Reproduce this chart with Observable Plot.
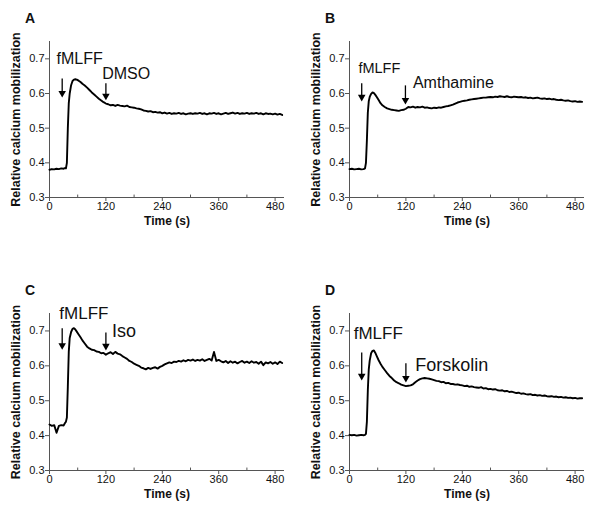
<!DOCTYPE html>
<html>
<head>
<meta charset="utf-8">
<script src="https://cdn.jsdelivr.net/npm/d3@7"></script>
<script src="https://cdn.jsdelivr.net/npm/@observablehq/plot@0.6"></script>
<style>
  html, body { margin: 0; padding: 0; background: #fff; }
  #wrap { position: relative; width: 600px; height: 516px; font-family: "Liberation Sans", Arial, sans-serif; }
  .panel { position: absolute; }
  .letter { position: absolute; font-weight: bold; font-size: 14px; line-height: 14px; color: #111; }
</style>
</head>
<body>
<div id="wrap"></div>
<script>
// ---------- data ----------
const panelLetters = ["A", "B", "C", "D"];
const yLabel = "Relative calcium mobilization";
const xLabel = "Time (s)";
const xTicks = [0, 120, 240, 360, 480];
const xMinorTicks = [60, 180, 300, 420];
const yTicks = [0.3, 0.4, 0.5, 0.6, 0.7];

const timeGrid = [
  0, 5, 10, 15, 20, 25, 30, 33, 35, 37,
  39, 41, 43, 46, 49, 52, 55, 58, 62, 66,
  70, 75, 80, 85, 90, 95, 100, 105, 110, 115,
  120, 125, 130, 135, 140, 145, 150, 155, 160, 165,
  170, 175, 180, 185, 190, 195, 200, 205, 210, 215,
  220, 225, 230, 235, 240, 245, 250, 255, 260, 265,
  270, 275, 280, 285, 290, 295, 300, 305, 310, 315,
  320, 325, 330, 335, 340, 345, 350, 355, 360, 365,
  370, 375, 380, 385, 390, 395, 400, 405, 410, 415,
  420, 425, 430, 435, 440, 445, 450, 455, 460, 465,
  470, 475, 480, 485, 490, 495
];

const valuesA = [
  .380,.382,.381,.383,.382,.384,.383,.385,.384,.400,
  .500,.572,.600,.624,.636,.640,.641,.640,.637,.633,
  .628,.623,.617,.610,.603,.597,.591,.585,.580,.575,
  .571,.569,.566,.567,.564,.567,.565,.564,.563,.565,
  .561,.560,.559,.557,.556,.554,.551,.550,.548,.549,
  .546,.547,.545,.546,.543,.545,.542,.544,.541,.543,
  .542,.544,.541,.543,.540,.542,.543,.541,.543,.542,
  .544,.541,.543,.540,.543,.542,.544,.541,.543,.540,
  .542,.544,.541,.543,.545,.542,.544,.541,.543,.542,
  .544,.541,.543,.542,.544,.541,.543,.540,.543,.541,
  .542,.540,.542,.539,.541,.538
];
const valuesB = [
  .382,.383,.381,.382,.383,.381,.382,.384,.400,.465,
  .545,.578,.590,.599,.603,.601,.596,.590,.581,.572,
  .566,.561,.557,.555,.553,.552,.551,.550,.552,.553,
  .556,.561,.560,.562,.559,.561,.560,.562,.559,.560,
  .558,.557,.559,.558,.560,.559,.561,.563,.564,.566,
  .568,.571,.574,.576,.578,.579,.580,.582,.583,.584,
  .585,.586,.587,.588,.588,.589,.590,.589,.591,.590,
  .592,.591,.590,.592,.590,.589,.591,.590,.589,.590,
  .588,.589,.587,.588,.586,.587,.588,.586,.585,.586,
  .584,.585,.583,.584,.582,.581,.582,.580,.579,.580,
  .578,.577,.578,.576,.577,.576
];
const valuesC = [
  .432,.428,.430,.408,.428,.430,.429,.436,.440,.452,
  .540,.640,.680,.697,.706,.708,.704,.698,.690,.682,
  .673,.664,.655,.650,.646,.645,.641,.640,.636,.637,
  .632,.636,.639,.634,.640,.635,.633,.628,.624,.620,
  .614,.611,.606,.603,.600,.595,.593,.590,.594,.591,
  .594,.596,.592,.597,.600,.604,.607,.610,.608,.612,
  .611,.614,.612,.616,.613,.617,.615,.618,.614,.617,
  .615,.619,.614,.617,.620,.615,.640,.614,.617,.613,
  .610,.614,.608,.613,.609,.612,.607,.611,.614,.609,
  .612,.608,.613,.609,.611,.606,.612,.602,.610,.607,
  .611,.606,.610,.605,.612,.608
];
const valuesD = [
  .402,.401,.402,.400,.401,.402,.401,.402,.405,.440,
  .530,.590,.615,.636,.643,.644,.637,.628,.616,.606,
  .597,.588,.579,.571,.565,.558,.553,.550,.546,.544,
  .542,.543,.544,.547,.553,.558,.562,.564,.565,.564,
  .563,.561,.559,.557,.556,.553,.554,.550,.551,.548,
  .548,.546,.547,.545,.544,.542,.543,.540,.541,.539,
  .538,.537,.539,.535,.536,.533,.534,.532,.533,.530,
  .529,.530,.527,.528,.525,.526,.524,.522,.523,.520,
  .521,.519,.518,.519,.516,.517,.515,.516,.514,.515,
  .513,.512,.513,.511,.512,.510,.511,.509,.510,.508,
  .509,.507,.508,.506,.507,.507
];

// annotations (data coordinates)
const annotTextA = ["fMLFF", "DMSO"];
const annotTimeA = [15, 112];
const annotValueA = [0.685, 0.642];
const annotTextB = ["fMLFF", "Amthamine"];
const annotTimeB = [19, 135];
const annotValueB = [0.659, 0.616];
const annotTextC = ["fMLFF", "Iso"];
const annotTimeC = [21, 133];
const annotValueC = [0.734, 0.683];
const annotTextD = ["fMLFF", "Forskolin"];
const annotTimeD = [9, 140];
const annotValueD = [0.677, 0.586];

const arrowTimeA = [27, 120];
const arrowTopA = [0.642, 0.628];
const arrowTipA = [0.595, 0.587];
const arrowTimeB = [26, 119];
const arrowTopB = [0.628, 0.622];
const arrowTipB = [0.584, 0.575];
const arrowTimeC = [27, 120];
const arrowTopC = [0.706, 0.694];
const arrowTipC = [0.653, 0.651];
const arrowTimeD = [26, 120];
const arrowTopD = [0.637, 0.606];
const arrowTipD = [0.565, 0.559];

// ---------- build ----------
const FONT = '"Liberation Sans", Arial, sans-serif';
const panels = [
  {values: valuesA, aText: annotTextA, aTime: annotTimeA, aVal: annotValueA, rTime: arrowTimeA, rTop: arrowTopA, rTip: arrowTipA,
   left: 0, top: 0, height: 250, marginTop: 41, marginBottom: 53, sizes: [16, 16], letterTop: 11},
  {values: valuesB, aText: annotTextB, aTime: annotTimeB, aVal: annotValueB, rTime: arrowTimeB, rTop: arrowTopB, rTip: arrowTipB,
   left: 300, top: 0, height: 250, marginTop: 41, marginBottom: 53, sizes: [14.5, 16], letterTop: 11},
  {values: valuesC, aText: annotTextC, aTime: annotTimeC, aVal: annotValueC, rTime: arrowTimeC, rTop: arrowTopC, rTip: arrowTipC,
   left: 0, top: 250, height: 266, marginTop: 63, marginBottom: 46, sizes: [17, 18], letterTop: 33},
  {values: valuesD, aText: annotTextD, aTime: annotTimeD, aVal: annotValueD, rTime: arrowTimeD, rTop: arrowTopD, rTip: arrowTipD,
   left: 300, top: 250, height: 266, marginTop: 63, marginBottom: 46, sizes: [17, 18], letterTop: 33}
];

const wrap = document.getElementById("wrap");
const axisColor = "#555";

panels.forEach((p, idx) => {
  const series = timeGrid.map((t, i) => ({t, v: p.values[i]})).filter(d => d.v != null);
  const annots = p.aText.map((text, i) => ({text, t: p.aTime[i], v: p.aVal[i]}));
  const arrows = p.rTime.map((t, i) => ({t, top: p.rTop[i], tip: p.rTip[i]}));

  const chart = Plot.plot({
    width: 300,
    height: p.height,
    marginLeft: 49,
    marginRight: 16,
    marginTop: p.marginTop,
    marginBottom: p.marginBottom,
    x: {domain: [0, 500]},
    y: {domain: [0.3, 0.75]},
    style: {fontFamily: FONT, fontSize: "11px", background: "white", overflow: "visible", color: "#111"},
    marks: [
      Plot.axisY({ticks: yTicks, tickFormat: d3.format(".1f"), tickSize: 4, tickPadding: 1, stroke: axisColor, fill: "#111",
                  label: yLabel, labelAnchor: "center", labelArrow: "none", labelOffset: 38, fontSize: 11}),
      Plot.axisX({ticks: xTicks, tickSize: 4, tickPadding: 1, stroke: axisColor, fill: "#111",
                  label: xLabel, labelAnchor: "center", labelArrow: "none", labelOffset: 27, fontSize: 11}),
      Plot.ruleX(xMinorTicks, {y1: 0.3, y2: 0.307, stroke: axisColor}),
      Plot.ruleY([0.3], {stroke: axisColor}),
      Plot.ruleX([0], {stroke: axisColor}),
      Plot.line(series, {x: "t", y: "v", stroke: "#000", strokeWidth: 1.9, strokeLinejoin: "round"}),
      Plot.ruleX(arrows, {x: "t", y1: "top", y2: "tip", stroke: "#000", strokeWidth: 1.3}),
      Plot.dot(arrows, {x: "t", y: "tip", symbol: "triangle", rotate: 180, r: 2.8, fill: "#000", stroke: "none", dy: -2}),
      Plot.text([annots[0]], {x: "t", y: "v", text: "text", textAnchor: "start", lineAnchor: "bottom", fontSize: p.sizes[0], fill: "#111"}),
      Plot.text([annots[1]], {x: "t", y: "v", text: "text", textAnchor: "start", lineAnchor: "bottom", fontSize: p.sizes[1], fill: "#111"})
    ]
  });

  // bold axis titles
  chart.querySelectorAll('[aria-label="y-axis label"] text').forEach(t => {
    t.setAttribute("font-weight", "bold"); t.setAttribute("font-size", "12.5");
  });
  chart.querySelectorAll('[aria-label="x-axis label"] text').forEach(t => {
    t.setAttribute("font-weight", "bold"); t.setAttribute("font-size", "12");
  });

  const div = document.createElement("div");
  div.className = "panel";
  div.style.left = p.left + "px";
  div.style.top = p.top + "px";
  div.appendChild(chart);
  wrap.appendChild(div);

  const letter = document.createElement("div");
  letter.className = "letter";
  letter.textContent = panelLetters[idx];
  letter.style.left = (p.left + 25) + "px";
  letter.style.top = (p.top + p.letterTop) + "px";
  wrap.appendChild(letter);
});
</script>
</body>
</html>
